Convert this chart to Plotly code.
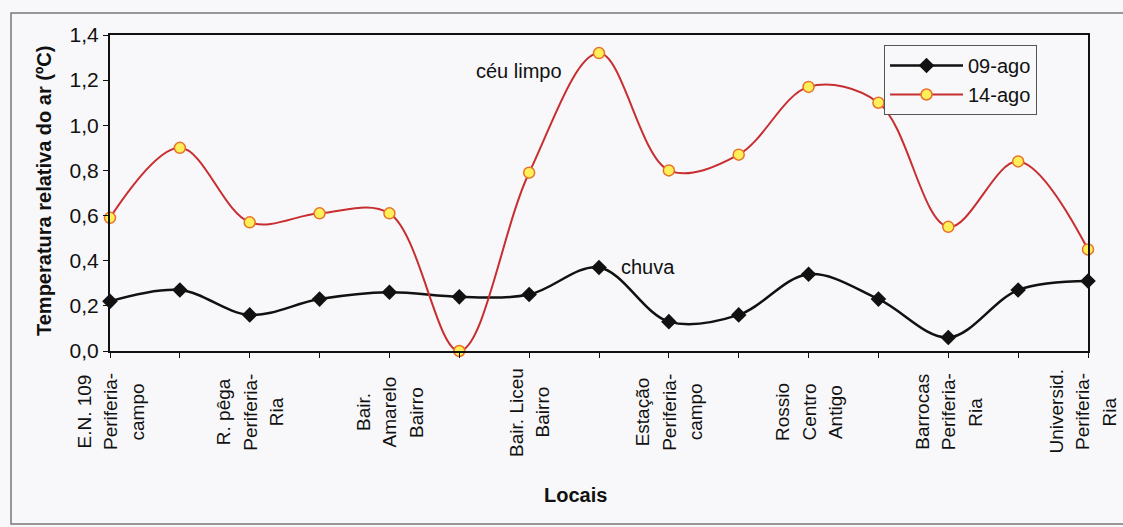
import plotly.graph_objects as go

# ---- data ----
positions = list(range(1, 16))
locais = [
    "E.N. 109<br>Periferia-<br>campo", "",
    "R. pêga<br>Periferia-<br>Ria", "",
    "Bair.<br>Amarelo<br>Bairro", "",
    "Bair. Liceu<br>Bairro", "",
    "Estação<br>Periferia-<br>campo", "",
    "Rossio<br>Centro<br>Antigo", "",
    "Barrocas<br>Periferia-<br>Ria", "",
    "Universid.<br>Periferia-<br>Ria",
]
ago09 = [0.22, 0.27, 0.16, 0.23, 0.26, 0.24, 0.25, 0.37, 0.13, 0.16, 0.34, 0.23, 0.06, 0.27, 0.31]
ago14 = [0.59, 0.90, 0.57, 0.61, 0.61, 0.00, 0.79, 1.32, 0.80, 0.87, 1.17, 1.10, 0.55, 0.84, 0.45]
y_ticks = [0.0, 0.2, 0.4, 0.6, 0.8, 1.0, 1.2, 1.4]

FONT = "Arial, 'Liberation Sans', sans-serif"
BG = "#f8f8fa"
INK = "#111111"

# plot-area geometry in page pixels (used only to place free texts)
PL, PR, PT, PB = 110, 1088, 35, 351
PW, PH = PR - PL, PB - PT


def px_x(x):
    return (x - PL) / PW


def px_y(y):
    return (PB - y) / PH


fig = go.Figure()
fig.add_trace(go.Scatter(
    x=positions, y=ago09, name="09-ago", mode="lines+markers",
    line=dict(color=INK, width=2.5, shape="spline", smoothing=1.0),
    marker=dict(symbol="diamond", size=12, color=INK),
    cliponaxis=False,
))
fig.add_trace(go.Scatter(
    x=positions, y=ago14, name="14-ago", mode="lines+markers",
    line=dict(color="#c82e30", width=2, shape="spline", smoothing=1.0),
    marker=dict(symbol="circle", size=11, color="#fff05a",
                line=dict(color="#e8702a", width=1.5)),
    cliponaxis=False,
))

annotations = []
# category labels: rotated, each line centred, lines ~26px apart
LINE_GAP = 26.5
for k, (p, lab) in enumerate(zip(positions, locais)):
    if not lab:
        continue
    lines = lab.split("<br>")
    n = len(lines)
    nudge = -6 if k == len(positions) - 1 else 0  # keep last label inside the page
    for i, ln in enumerate(lines):
        annotations.append(dict(
            x=p, xref="x", y=px_y(412), yref="paper",
            xshift=(i - (n - 1) / 2) * LINE_GAP + nudge,
            text=ln, showarrow=False, textangle=-90,
            xanchor="center", yanchor="middle",
            font=dict(family=FONT, size=19, color=INK),
        ))
# y-axis title
annotations.append(dict(
    x=px_x(44), xref="paper", y=px_y(191), yref="paper",
    text="<b>Temperatura relativa do ar (ºC)</b>", showarrow=False,
    textangle=-90, xanchor="center", yanchor="middle",
    font=dict(family=FONT, size=20, color=INK),
))
# x-axis title
annotations.append(dict(
    x=px_x(575), xref="paper", y=px_y(495), yref="paper",
    text="<b>Locais</b>", showarrow=False, xanchor="center", yanchor="middle",
    font=dict(family=FONT, size=20, color=INK),
))
# in-plot labels
annotations.append(dict(x=6.855, y=1.24, xref="x", yref="y", text="céu limpo",
                        showarrow=False, font=dict(family=FONT, size=20, color=INK)))
annotations.append(dict(x=8.70, y=0.372, xref="x", yref="y", text="chuva",
                        showarrow=False, font=dict(family=FONT, size=20, color=INK)))

fig.update_layout(
    width=1123, height=527, autosize=False,
    margin=dict(l=PL, r=1123 - PR, t=PT, b=527 - PB),
    paper_bgcolor=BG, plot_bgcolor=BG,
    font=dict(family=FONT, size=19, color=INK),
    separators=",.",
    showlegend=True,
    legend=dict(
        x=px_x(884), y=px_y(45), xanchor="left", yanchor="top",
        bgcolor=BG, bordercolor="#555555", borderwidth=1,
        font=dict(family=FONT, size=20, color=INK),
        itemwidth=73, entrywidth=170,
    ),
    xaxis=dict(
        range=[1, 15], tickvals=positions, showticklabels=False,
        ticks="outside", ticklen=5, tickcolor=INK, tickwidth=1,
        showline=True, linecolor=INK, linewidth=2, mirror=True,
        showgrid=False, zeroline=False, fixedrange=True,
    ),
    yaxis=dict(
        range=[0, 1.4], tickvals=y_ticks, tickformat=".1f",
        ticks="outside", ticklen=5, tickcolor=INK, tickwidth=1,
        showline=True, linecolor=INK, linewidth=2, mirror=True,
        showgrid=False, zeroline=False, fixedrange=True,
        tickfont=dict(family=FONT, size=21, color=INK),
    ),
    annotations=annotations,
    shapes=[dict(
        type="rect", xref="paper", yref="paper",
        x0=px_x(11), x1=px_x(1135),
        y0=px_y(524), y1=px_y(13),
        line=dict(color="#777777", width=1.5), fillcolor="rgba(0,0,0,0)",
        layer="below",
    )],
)

fig.write_html(
    "out.html",
    config={"displayModeBar": False},
    post_script="document.body.style.margin='0';document.body.style.overflow='hidden';",
)
